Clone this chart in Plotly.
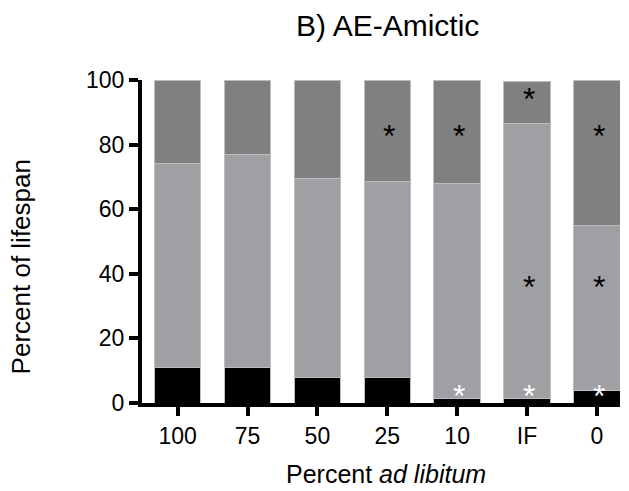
import plotly.graph_objects as go

categories = ["100", "75", "50", "25", "10", "IF", "0"]
pre_repro = [11, 11, 8, 8, 1.5, 1.5, 4]
repro = [63, 66, 61.5, 60.5, 66.5, 85, 51]
post_repro = [26, 23, 30.5, 31.5, 32, 13, 45]

# significance asterisks: (category, y value, colour)
star_cats = ["25", "10", "0", "IF", "IF", "0", "10", "IF", "0"]
star_vals = [84, 84, 84, 95.5, 37, 37, 3.5, 3.5, 3.5]
star_cols = ["black", "black", "black", "black", "black", "black", "white", "white", "white"]

FONT = "Liberation Sans, Arial, Helvetica, sans-serif"
W = 0.665
edge = dict(color="#bdbdbd", width=1)

fig = go.Figure()
fig.add_bar(x=categories, y=pre_repro, name="Pre-reproductive", width=W,
            marker=dict(color="#000000", line=edge))
fig.add_bar(x=categories, y=repro, name="Reproductive", width=W,
            marker=dict(color="#a0a0a4", line=edge))
fig.add_bar(x=categories, y=post_repro, name="Post-reproductive", width=W,
            marker=dict(color="#808080", line=edge))

annotations = []
for c, v, col in zip(star_cats, star_vals, star_cols):
    annotations.append(dict(x=categories.index(c), y=v, xref="x", yref="y", text="*", showarrow=False,
                            xshift=2, yshift=-4, font=dict(size=32, color=col, family=FONT)))

annotations.append(dict(x=0.514, y=1.169, xref="paper", yref="paper", text="B) AE-Amictic",
                        showarrow=False, xanchor="center", yanchor="middle",
                        font=dict(size=30, color="black", family=FONT)))
annotations.append(dict(x=0.51, y=-0.22, xref="paper", yref="paper", text="Percent <i>ad libitum</i>",
                        showarrow=False, xanchor="center", yanchor="middle",
                        font=dict(size=25, color="black", family=FONT)))
annotations.append(dict(x=-0.253, y=0.42, xref="paper", yref="paper", text="Percent of lifespan",
                        showarrow=False, xanchor="center", yanchor="middle", textangle=-90,
                        font=dict(size=26, color="black", family=FONT)))

fig.update_layout(
    width=629, height=491, autosize=False,
    margin=dict(l=142, r=9, t=80, b=88),
    barmode="stack",
    showlegend=False,
    plot_bgcolor="white", paper_bgcolor="white",
    font=dict(family=FONT, size=23, color="black"),
    annotations=annotations,
)
fig.update_xaxes(type="category", range=[-0.51, 6.33], showline=True, linewidth=4, linecolor="black",
                 ticks="outside", ticklen=9, tickwidth=4, tickcolor="black",
                 showgrid=False, zeroline=False, tickfont=dict(size=23))
fig.update_yaxes(range=[0, 100], tickvals=[0, 20, 40, 60, 80, 100], showline=True, linewidth=4,
                 linecolor="black", ticks="outside", ticklen=9, tickwidth=4, tickcolor="black",
                 showgrid=False, zeroline=False, tickfont=dict(size=23))

fig.write_html("out.html")
